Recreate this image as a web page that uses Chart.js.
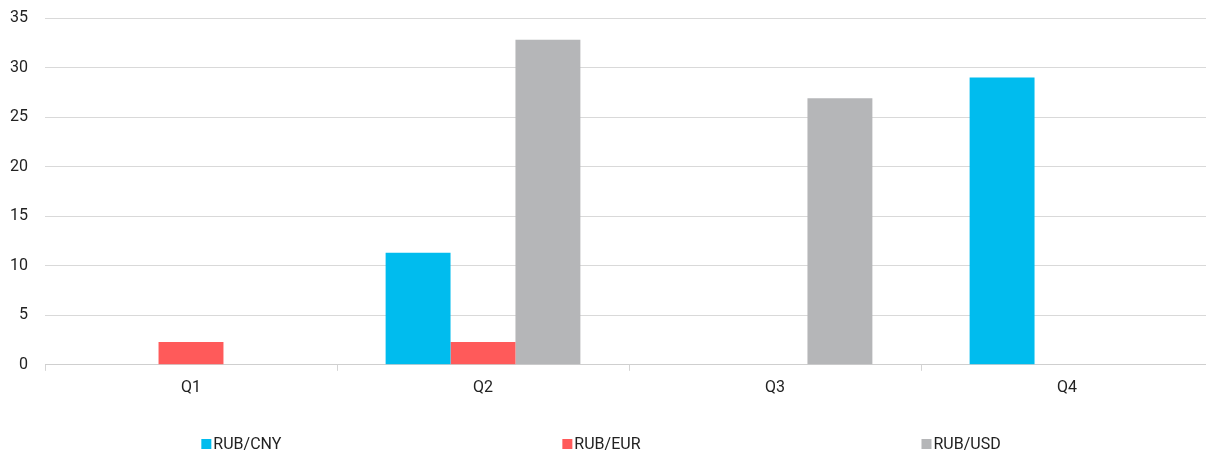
<!DOCTYPE html>
<html>
<head>
<meta charset="utf-8">
<script src="https://cdn.jsdelivr.net/npm/chart.js@4/dist/chart.umd.min.js"></script>
<style>
  html, body { margin: 0; padding: 0; background: #fff; overflow: hidden; }
  #wrap { width: 1213px; height: 455px; }
</style>
</head>
<body>
<div id="wrap"><canvas id="fxChart"></canvas></div>
<script>
const quarters = ['Q1', 'Q2', 'Q3', 'Q4'];
const rubCny = [0, 11.3, 0, 29.0];
const rubEur = [2.3, 2.3, 0, 0];
const rubUsd = [0, 32.8, 26.9, 0];
const yTicks = [0, 5, 10, 15, 20, 25, 30, 35];

// legend drawn by hand so the three items can be spread wide across the bottom
const spreadLegend = {
    id: 'spreadLegend',
    afterDraw(chart) {
        const ctx = chart.ctx;
        const box = 10, gap = 6, spacing = 277;
        ctx.save();
        ctx.font = '16px Roboto';
        ctx.textBaseline = 'middle';
        const items = chart.data.datasets.map(ds => ({
            text: ds.label,
            color: ds.backgroundColor,
            w: box + gap + ctx.measureText(ds.label).width
        }));
        const total = items.reduce((s, it) => s + it.w, 0) + spacing * (items.length - 1);
        let x = 603 - total / 2;
        const y = 444;
        items.forEach(it => {
            ctx.fillStyle = it.color;
            ctx.fillRect(x, y - box / 2, box, box);
            ctx.fillStyle = '#222';
            ctx.fillText(it.text, x + box + 2, y + 1);
            x += it.w + spacing;
        });
        ctx.restore();
    }
};

Chart.defaults.font.family = 'Roboto';
Chart.defaults.font.size = 16;
Chart.defaults.color = '#222';

new Chart(document.getElementById('fxChart'), {
    type: 'bar',
    data: {
        labels: quarters,
        datasets: [
            { label: 'RUB/CNY', data: rubCny, backgroundColor: '#00bcee' },
            { label: 'RUB/EUR', data: rubEur, backgroundColor: '#ff5a5a' },
            { label: 'RUB/USD', data: rubUsd, backgroundColor: '#b5b6b8' }
        ]
    },
    options: {
        responsive: true,
        maintainAspectRatio: false,
        animation: false,
        categoryPercentage: 0.667,
        barPercentage: 1,
        layout: { padding: { top: 0, left: 0, right: 0, bottom: 49 } },
        plugins: {
            legend: { display: false },
            tooltip: { enabled: false }
        },
        scales: {
            x: {
                grid: { drawOnChartArea: false, color: '#d4d4d4', tickLength: 6 },
                border: { color: '#cfcfcf' },
                ticks: { padding: 8 }
            },
            y: {
                min: 0,
                max: 35,
                afterBuildTicks: axis => { axis.ticks = yTicks.map(v => ({ value: v })); },
                afterFit: axis => { axis.width = 45; axis.paddingTop = 18; },
                grid: { color: '#d9d9d9', drawTicks: false },
                border: { display: false },
                ticks: { padding: 17 }
            }
        }
    },
    plugins: [spreadLegend]
});
</script>
</body>
</html>
